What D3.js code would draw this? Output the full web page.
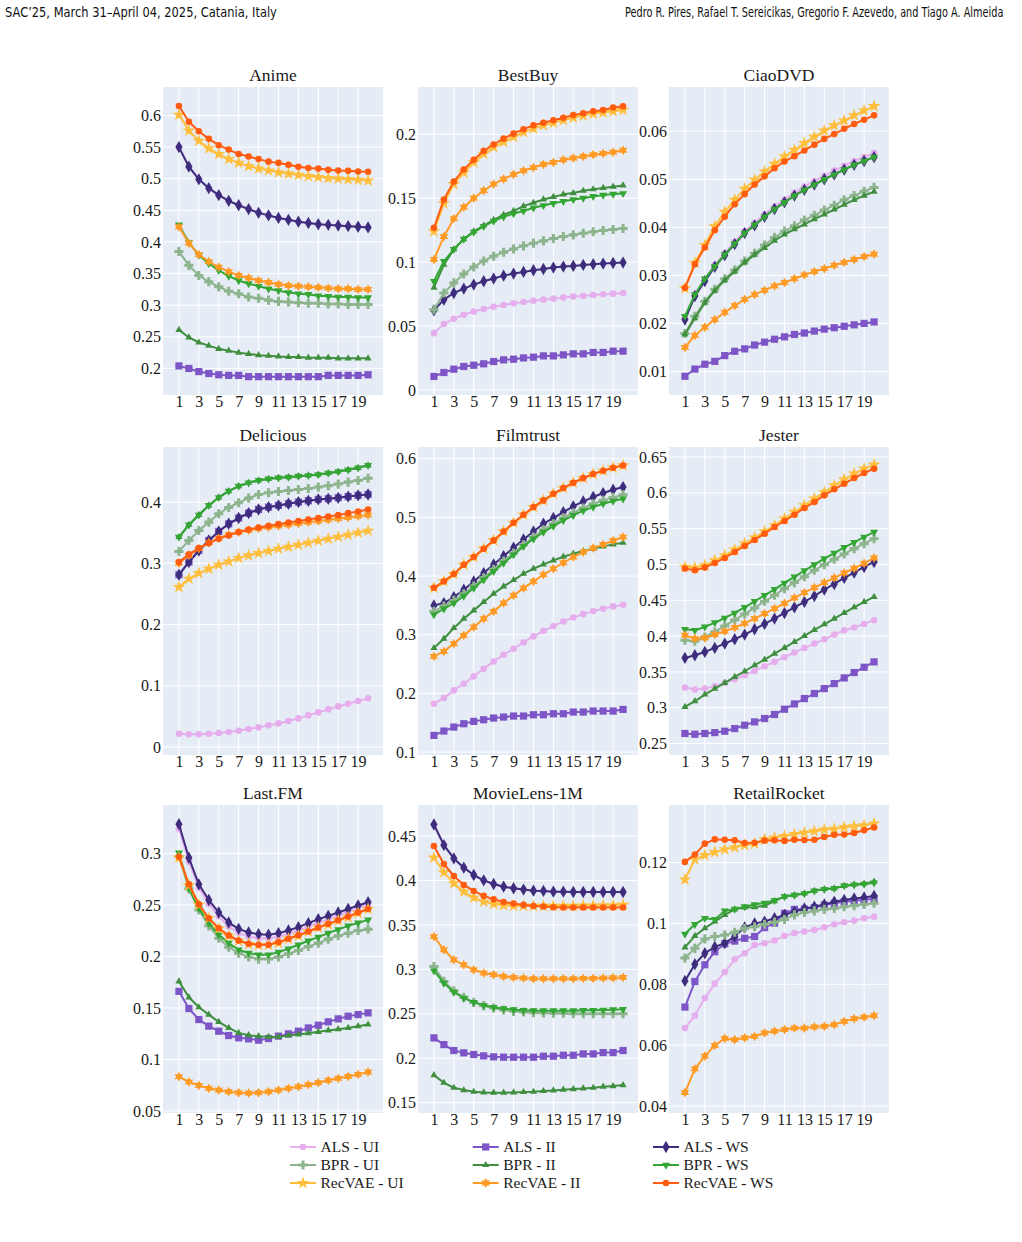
<!DOCTYPE html>
<html>
<head>
<meta charset="utf-8">
<script src="https://cdn.jsdelivr.net/npm/d3@7"></script>
<style>
  html, body { margin: 0; padding: 0; background: #fff; }
  svg { display: block; }
</style>
</head>
<body>
<svg id="chart" width="1022" height="1242"></svg>
<script>
// ---------------- DATA ----------------
const iterations = d3.range(1, 21);
const xTickValues = [1, 3, 5, 7, 9, 11, 13, 15, 17, 19];
const seriesNames = ["ALS - UI", "ALS - II", "ALS - WS", "BPR - UI", "BPR - II", "BPR - WS", "RecVAE - UI", "RecVAE - II", "RecVAE - WS"];
const seriesColors = ["#e6aeed", "#7d55c7", "#3e2c7c", "#8db48d", "#3f8f3f", "#33a633", "#ffbe3c", "#ff9a24", "#ff5c0f"];
const seriesSymbols = ["circle", "square", "diamond", "cross", "triangle", "triangleDown", "star", "hexagram", "circle"];
const datasetNames = ["Anime", "BestBuy", "CiaoDVD", "Delicious", "Filmtrust", "Jester", "Last.FM", "MovieLens-1M", "RetailRocket"];

// rows follow seriesNames order
const animeValues = [
  [0.550,0.519,0.499,0.485,0.474,0.465,0.458,0.452,0.446,0.442,0.438,0.435,0.432,0.430,0.428,0.427,0.426,0.425,0.424,0.423],
  [0.204,0.200,0.195,0.192,0.190,0.189,0.189,0.187,0.187,0.187,0.187,0.187,0.187,0.187,0.187,0.189,0.189,0.189,0.189,0.190],
  [0.550,0.519,0.499,0.485,0.474,0.465,0.458,0.452,0.446,0.442,0.438,0.435,0.432,0.430,0.428,0.427,0.426,0.425,0.424,0.423],
  [0.385,0.363,0.347,0.337,0.329,0.322,0.318,0.313,0.311,0.308,0.306,0.305,0.304,0.303,0.303,0.302,0.302,0.301,0.301,0.301],
  [0.261,0.249,0.241,0.236,0.231,0.228,0.225,0.223,0.221,0.220,0.219,0.218,0.218,0.217,0.217,0.217,0.216,0.216,0.216,0.216],
  [0.427,0.399,0.379,0.366,0.355,0.346,0.339,0.334,0.330,0.326,0.323,0.320,0.318,0.317,0.315,0.314,0.313,0.313,0.312,0.312],
  [0.601,0.576,0.560,0.548,0.539,0.531,0.525,0.520,0.516,0.513,0.510,0.508,0.506,0.504,0.5025,0.501,0.500,0.499,0.498,0.497],
  [0.424,0.398,0.380,0.369,0.360,0.353,0.347,0.343,0.339,0.336,0.333,0.331,0.330,0.329,0.328,0.327,0.326,0.326,0.325,0.325],
  [0.615,0.590,0.575,0.563,0.553,0.546,0.539,0.535,0.531,0.527,0.525,0.522,0.519,0.517,0.516,0.514,0.513,0.5125,0.5115,0.511]
];
const bestbuyValues = [
  [0.0444,0.0515,0.0557,0.0588,0.0614,0.0633,0.065,0.0664,0.0677,0.0688,0.0698,0.0706,0.0714,0.0722,0.073,0.0735,0.0743,0.0748,0.0753,0.0758],
  [0.0105,0.0136,0.0162,0.0183,0.0193,0.0204,0.0222,0.0235,0.024,0.025,0.0256,0.0266,0.0266,0.0274,0.0282,0.0282,0.0293,0.0293,0.0303,0.0303],
  [0.0622,0.0706,0.0758,0.0792,0.0824,0.085,0.0871,0.0894,0.091,0.0923,0.0936,0.0946,0.0957,0.0965,0.097,0.0978,0.0983,0.0988,0.0993,0.0996],
  [0.0627,0.0758,0.0837,0.0907,0.0962,0.1009,0.1046,0.1077,0.1103,0.1127,0.1148,0.1166,0.1184,0.120,0.1213,0.1226,0.1237,0.1247,0.1255,0.1263],
  [0.080,0.098,0.110,0.118,0.124,0.1286,0.133,0.137,0.140,0.1438,0.1464,0.149,0.151,0.153,0.154,0.1558,0.157,0.158,0.159,0.160],
  [0.085,0.1006,0.110,0.118,0.1234,0.128,0.132,0.1354,0.138,0.140,0.1425,0.1443,0.146,0.1475,0.149,0.150,0.1514,0.1524,0.1532,0.1537],
  [0.124,0.146,0.161,0.170,0.178,0.1846,0.190,0.194,0.198,0.2016,0.2045,0.207,0.209,0.211,0.213,0.2146,0.216,0.217,0.218,0.219],
  [0.102,0.120,0.134,0.143,0.150,0.156,0.161,0.165,0.1686,0.1715,0.174,0.1765,0.178,0.180,0.1814,0.1827,0.184,0.185,0.186,0.1875],
  [0.1268,0.149,0.163,0.1725,0.180,0.187,0.192,0.1966,0.2005,0.204,0.207,0.209,0.211,0.213,0.215,0.2165,0.218,0.219,0.221,0.222]
];
const ciaodvdValues = [
  [0.0211,0.026,0.0291,0.0322,0.0346,0.037,0.0392,0.0409,0.0427,0.0443,0.0458,0.0472,0.0485,0.0496,0.0507,0.0518,0.0528,0.0538,0.0546,0.0555],
  [0.0090,0.0105,0.0115,0.0121,0.0133,0.0142,0.0147,0.0155,0.0161,0.0167,0.0172,0.0177,0.018,0.0184,0.0188,0.0191,0.0194,0.0197,0.020,0.0203],
  [0.0208,0.0257,0.0288,0.0318,0.0342,0.0365,0.0388,0.0404,0.0422,0.0438,0.0452,0.0466,0.0478,0.0489,0.050,0.051,0.052,0.053,0.0538,0.0546],
  [0.0179,0.0215,0.0246,0.0271,0.0293,0.0311,0.033,0.0346,0.0363,0.0379,0.0392,0.0403,0.0415,0.0425,0.0436,0.0446,0.0457,0.0466,0.0475,0.0483],
  [0.0177,0.0211,0.0243,0.0268,0.029,0.0308,0.0327,0.0343,0.0357,0.0372,0.0385,0.0396,0.0406,0.0417,0.0427,0.0437,0.0447,0.0457,0.0466,0.0474],
  [0.0215,0.026,0.0293,0.0319,0.0343,0.0366,0.0388,0.0405,0.0422,0.0438,0.0452,0.0466,0.0478,0.0489,0.050,0.051,0.052,0.053,0.0538,0.0546],
  [0.0273,0.0326,0.0363,0.0402,0.0432,0.0457,0.048,0.0499,0.0516,0.0532,0.0547,0.0561,0.0575,0.0588,0.0601,0.0612,0.0622,0.0633,0.0643,0.0652],
  [0.015,0.0175,0.0192,0.0208,0.0223,0.0237,0.025,0.026,0.0269,0.0278,0.0285,0.0293,0.0301,0.0308,0.0314,0.0321,0.0327,0.0333,0.0339,0.0344],
  [0.0274,0.0323,0.0358,0.0394,0.0422,0.0448,0.0469,0.0489,0.0506,0.0523,0.0537,0.0548,0.056,0.0572,0.0584,0.0594,0.0605,0.0615,0.0624,0.0633]
];
const deliciousValues = [
  [0.0218,0.0207,0.0207,0.0218,0.0229,0.0245,0.0267,0.0294,0.0321,0.0354,0.0386,0.0424,0.0468,0.0517,0.0566,0.0615,0.0664,0.0707,0.0751,0.0795],
  [0.2814,0.302,0.321,0.3374,0.352,0.3646,0.374,0.382,0.388,0.3918,0.3946,0.3973,0.40,0.4022,0.4044,0.4054,0.407,0.409,0.411,0.4125],
  [0.2814,0.302,0.321,0.3374,0.352,0.3646,0.374,0.382,0.388,0.3918,0.3946,0.3973,0.40,0.4022,0.4044,0.4054,0.407,0.409,0.411,0.4125],
  [0.3195,0.3374,0.3537,0.3673,0.381,0.3913,0.399,0.4065,0.4125,0.4152,0.4174,0.419,0.4207,0.4223,0.4245,0.4267,0.4294,0.4327,0.4354,0.439],
  [0.343,0.363,0.379,0.3946,0.4076,0.418,0.426,0.4316,0.4354,0.438,0.4397,0.4408,0.4424,0.4435,0.445,0.4473,0.450,0.4528,0.456,0.460],
  [0.343,0.363,0.379,0.3946,0.4076,0.418,0.426,0.4316,0.4354,0.438,0.4397,0.4408,0.4424,0.4435,0.445,0.4473,0.450,0.4528,0.456,0.460],
  [0.2612,0.2748,0.284,0.291,0.2977,0.303,0.3086,0.313,0.3167,0.32,0.3238,0.327,0.3303,0.3336,0.3369,0.340,0.3434,0.3467,0.350,0.3532],
  [0.300,0.313,0.324,0.334,0.341,0.347,0.351,0.354,0.357,0.359,0.361,0.363,0.365,0.367,0.369,0.371,0.373,0.375,0.377,0.379],
  [0.302,0.3146,0.325,0.333,0.340,0.3456,0.351,0.3554,0.3586,0.3614,0.364,0.3668,0.369,0.3717,0.3739,0.3766,0.379,0.382,0.3848,0.388]
];
const filmtrustValues = [
  [0.1824,0.192,0.2051,0.2165,0.229,0.242,0.2545,0.2659,0.2761,0.2869,0.2972,0.3063,0.3148,0.3227,0.3295,0.3352,0.3403,0.3443,0.3483,0.3511],
  [0.1284,0.1358,0.1426,0.1483,0.1523,0.1551,0.158,0.1597,0.1614,0.1614,0.1636,0.1636,0.1653,0.1653,0.1682,0.1682,0.1699,0.1699,0.1699,0.1727],
  [0.35,0.354,0.3642,0.3767,0.3909,0.4051,0.4199,0.4341,0.4483,0.4625,0.4761,0.4892,0.4989,0.5091,0.5188,0.5273,0.5347,0.5415,0.5472,0.5517],
  [0.3398,0.3489,0.3585,0.3699,0.383,0.3972,0.4114,0.4256,0.4392,0.4534,0.4665,0.479,0.4892,0.4994,0.508,0.5159,0.5233,0.529,0.5341,0.5386],
  [0.2773,0.2932,0.3114,0.3273,0.3415,0.3557,0.3699,0.3824,0.3932,0.404,0.4125,0.4199,0.4267,0.433,0.4381,0.4426,0.4466,0.4506,0.454,0.4568],
  [0.3341,0.3443,0.354,0.3659,0.3795,0.3937,0.408,0.4222,0.4364,0.4506,0.4636,0.475,0.4852,0.4949,0.5034,0.5114,0.5176,0.5233,0.5278,0.5318],
  [0.380,0.391,0.4034,0.4193,0.4324,0.4466,0.4608,0.4761,0.4909,0.5045,0.5176,0.529,0.5403,0.55,0.5591,0.567,0.5739,0.5795,0.5847,0.5886],
  [0.2631,0.2716,0.2847,0.2989,0.3131,0.3273,0.3398,0.354,0.367,0.3795,0.3909,0.4023,0.4125,0.4227,0.4324,0.4409,0.4477,0.454,0.4602,0.4665],
  [0.380,0.391,0.4034,0.4193,0.4324,0.4466,0.4608,0.4761,0.4909,0.5045,0.5176,0.529,0.5403,0.55,0.5591,0.567,0.5739,0.5795,0.5847,0.5886]
];
const jesterValues = [
  [0.3281,0.3253,0.3267,0.33,0.3347,0.3398,0.3453,0.3514,0.3579,0.364,0.3705,0.377,0.3835,0.3895,0.3956,0.4021,0.4081,0.412,0.417,0.4221],
  [0.264,0.263,0.264,0.2653,0.2672,0.2709,0.2756,0.2802,0.2849,0.2905,0.2979,0.3053,0.3128,0.3198,0.3267,0.3337,0.3416,0.3491,0.3565,0.364],
  [0.3695,0.3733,0.3779,0.3835,0.3895,0.3956,0.4021,0.4095,0.417,0.4244,0.4323,0.4402,0.4477,0.456,0.4649,0.4728,0.4812,0.4886,0.4965,0.5035],
  [0.3942,0.3928,0.3988,0.4058,0.4142,0.4226,0.4309,0.4393,0.4486,0.457,0.4663,0.4747,0.483,0.4919,0.4998,0.5072,0.5147,0.5221,0.5291,0.536],
  [0.3012,0.3091,0.3184,0.3267,0.3347,0.343,0.3509,0.3593,0.3672,0.3756,0.3835,0.3919,0.4002,0.4086,0.4165,0.4244,0.4323,0.4402,0.4477,0.4547],
  [0.4095,0.4081,0.4128,0.4188,0.4253,0.4323,0.4402,0.4486,0.457,0.4653,0.4742,0.4826,0.4914,0.4998,0.5081,0.516,0.524,0.5309,0.5384,0.5453],
  [0.4965,0.4956,0.4988,0.5058,0.5128,0.5207,0.5291,0.5374,0.5463,0.5547,0.564,0.5733,0.5826,0.5919,0.6012,0.6105,0.6188,0.6267,0.6337,0.6393],
  [0.4012,0.3965,0.3974,0.4021,0.4067,0.4119,0.4179,0.4244,0.4314,0.4384,0.4458,0.4533,0.4607,0.4677,0.4747,0.4812,0.4881,0.4947,0.5016,0.5091],
  [0.4942,0.4919,0.4956,0.5021,0.5091,0.5174,0.5258,0.5342,0.543,0.5523,0.5607,0.5695,0.5788,0.5872,0.5965,0.6049,0.6128,0.6207,0.6277,0.6337]
];
const lastfmValues = [
  [0.324,0.292,0.267,0.251,0.239,0.229,0.223,0.219,0.218,0.2175,0.219,0.222,0.225,0.229,0.233,0.236,0.240,0.243,0.247,0.250],
  [0.1661,0.1494,0.1387,0.1323,0.1274,0.1232,0.121,0.120,0.1187,0.1203,0.1226,0.1248,0.1274,0.1306,0.1332,0.1365,0.1394,0.1419,0.1435,0.1452],
  [0.3284,0.2958,0.27,0.2548,0.2426,0.2329,0.2268,0.2232,0.2216,0.221,0.2226,0.2252,0.2284,0.2323,0.2361,0.2394,0.2426,0.2461,0.2494,0.2526],
  [0.297,0.2655,0.2452,0.2297,0.2177,0.209,0.2032,0.1994,0.1974,0.1974,0.1994,0.2026,0.2058,0.2097,0.2129,0.2168,0.22,0.2226,0.2252,0.2265],
  [0.1758,0.1603,0.1506,0.1435,0.1365,0.1306,0.1258,0.1235,0.1226,0.1219,0.1219,0.1232,0.1242,0.1255,0.1268,0.1281,0.1294,0.1306,0.1323,0.1339],
  [0.3006,0.2661,0.2468,0.2323,0.221,0.2129,0.2065,0.2032,0.2016,0.2016,0.2042,0.2074,0.2113,0.2152,0.2187,0.2226,0.2261,0.2297,0.2326,0.2355],
  [0.296,0.269,0.250,0.237,0.227,0.220,0.215,0.212,0.211,0.211,0.213,0.217,0.220,0.224,0.228,0.231,0.235,0.238,0.242,0.246],
  [0.0832,0.0781,0.0748,0.0719,0.0703,0.0687,0.0677,0.0674,0.0677,0.0687,0.0703,0.0719,0.0735,0.0755,0.0774,0.0797,0.0816,0.0835,0.0855,0.0877],
  [0.2968,0.27,0.2506,0.2371,0.2274,0.2203,0.2155,0.2123,0.2113,0.2113,0.2139,0.2171,0.2206,0.2242,0.2281,0.2316,0.2352,0.2387,0.2426,0.2461]
];
const movielensValues = [
  [0.4631,0.4399,0.4249,0.4145,0.4062,0.4002,0.3961,0.3931,0.3913,0.3898,0.3886,0.3883,0.3875,0.3875,0.3871,0.3871,0.3871,0.3871,0.3871,0.3871],
  [0.2229,0.2154,0.2087,0.2061,0.2042,0.2027,0.2016,0.2012,0.2012,0.2012,0.2012,0.2023,0.2023,0.2034,0.2034,0.2049,0.2049,0.2064,0.2064,0.2087],
  [0.4631,0.4399,0.4249,0.4145,0.4062,0.4002,0.3961,0.3931,0.3913,0.3898,0.3886,0.3883,0.3875,0.3875,0.3871,0.3871,0.3871,0.3871,0.3871,0.3871],
  [0.3033,0.2865,0.276,0.2685,0.2629,0.2592,0.2566,0.2543,0.2528,0.2521,0.2513,0.251,0.2506,0.2506,0.2502,0.2502,0.2502,0.2502,0.2502,0.2502],
  [0.181,0.1724,0.1668,0.1642,0.1623,0.1616,0.1612,0.1612,0.1616,0.162,0.1623,0.1631,0.1638,0.1646,0.1653,0.1661,0.1668,0.168,0.1687,0.1698],
  [0.2985,0.2846,0.2745,0.2678,0.2629,0.2596,0.2573,0.2558,0.2547,0.2539,0.2536,0.2536,0.2536,0.2536,0.2536,0.2539,0.2539,0.2543,0.2547,0.2551],
  [0.4257,0.4092,0.3969,0.3875,0.3808,0.3763,0.3737,0.3722,0.3714,0.3714,0.3714,0.3714,0.3714,0.3714,0.3714,0.3718,0.3718,0.3722,0.3722,0.3726],
  [0.337,0.322,0.3108,0.3052,0.2996,0.2959,0.294,0.2921,0.291,0.2903,0.2895,0.2895,0.2895,0.2895,0.2895,0.2899,0.2899,0.2903,0.2906,0.291],
  [0.4388,0.4186,0.4051,0.395,0.3883,0.3827,0.3789,0.3759,0.3741,0.3726,0.3714,0.3707,0.3699,0.3696,0.3696,0.3696,0.3696,0.3696,0.3696,0.3696]
];
const retailrocketValues = [
  [0.0656,0.0697,0.0755,0.0802,0.084,0.0882,0.0902,0.0929,0.0935,0.0944,0.0959,0.0968,0.0973,0.0978,0.0987,0.0997,0.1004,0.1009,0.1017,0.1022],
  [0.0725,0.0809,0.0864,0.0907,0.0933,0.0942,0.0951,0.0957,0.0986,0.1001,0.1033,0.1046,0.1047,0.1052,0.106,0.1066,0.1071,0.1074,0.1077,0.1082],
  [0.0811,0.0866,0.0902,0.0923,0.0935,0.0957,0.0987,0.1,0.1006,0.1017,0.1028,0.1038,0.1049,0.1055,0.1062,0.1071,0.1077,0.1082,0.1085,0.109],
  [0.0886,0.0918,0.0949,0.0957,0.0962,0.0971,0.0984,0.0989,0.0997,0.1004,0.1013,0.1028,0.1036,0.1041,0.1046,0.1049,0.1055,0.1058,0.1062,0.1066],
  [0.0921,0.0959,0.0984,0.1006,0.1028,0.1046,0.1052,0.1053,0.1058,0.1073,0.1088,0.1093,0.1098,0.1107,0.1113,0.1115,0.1123,0.1128,0.1131,0.1137],
  [0.0965,0.0997,0.1017,0.1013,0.1041,0.1047,0.1055,0.1062,0.1067,0.1076,0.1088,0.1093,0.1098,0.1107,0.1112,0.1115,0.1124,0.1127,0.1129,0.1133],
  [0.1144,0.121,0.1224,0.1234,0.1243,0.125,0.1257,0.1262,0.1276,0.1282,0.1287,0.1293,0.1298,0.1303,0.1308,0.1311,0.1316,0.1319,0.1322,0.1328],
  [0.0444,0.0522,0.0564,0.0599,0.0622,0.0618,0.0624,0.0629,0.064,0.0646,0.0651,0.0656,0.0656,0.066,0.0662,0.0667,0.0678,0.0687,0.0692,0.0697],
  [0.1202,0.1226,0.1262,0.1276,0.1275,0.1273,0.1264,0.1265,0.1272,0.1273,0.1271,0.1275,0.1274,0.1275,0.1284,0.1291,0.1292,0.1297,0.1306,0.1315]
];

// y tick values per dataset
const animeTicks = [0.2, 0.25, 0.3, 0.35, 0.4, 0.45, 0.5, 0.55, 0.6];
const bestbuyTicks = [0, 0.05, 0.1, 0.15, 0.2];
const ciaodvdTicks = [0.01, 0.02, 0.03, 0.04, 0.05, 0.06];
const deliciousTicks = [0, 0.1, 0.2, 0.3, 0.4];
const filmtrustTicks = [0.1, 0.2, 0.3, 0.4, 0.5, 0.6];
const jesterTicks = [0.25, 0.3, 0.35, 0.4, 0.45, 0.5, 0.55, 0.6, 0.65];
const lastfmTicks = [0.05, 0.1, 0.15, 0.2, 0.25, 0.3];
const movielensTicks = [0.15, 0.2, 0.25, 0.3, 0.35, 0.4, 0.45];
const retailrocketTicks = [0.04, 0.06, 0.08, 0.1, 0.12];

// ---------------- LAYOUT ----------------
const panels = [
  { values: animeValues, ticks: animeTicks, domain: [0.158, 0.645] },
  { values: bestbuyValues, ticks: bestbuyTicks, domain: [-0.004, 0.237] },
  { values: ciaodvdValues, ticks: ciaodvdTicks, domain: [0.0051, 0.0692] },
  { values: deliciousValues, ticks: deliciousTicks, domain: [-0.013, 0.49] },
  { values: filmtrustValues, ticks: filmtrustTicks, domain: [0.095, 0.62] },
  { values: jesterValues, ticks: jesterTicks, domain: [0.234, 0.664] },
  { values: lastfmValues, ticks: lastfmTicks, domain: [0.048, 0.347] },
  { values: movielensValues, ticks: movielensTicks, domain: [0.1384, 0.485] },
  { values: retailrocketValues, ticks: retailrocketTicks, domain: [0.0377, 0.1389] }
];
const colLeft = [163, 418, 669];
const rowTop = [87, 447, 805];
const plotW = 220, plotH = 308;
const xDomain = [-0.6, 21.5];

const serif = "'Liberation Serif', 'DejaVu Serif', serif";
const tickFont = 16, titleFont = 17.5, legendFont = 15.5;
const textColor = "#1a1a1a";

const svg = d3.select("#chart");

// header: text scaled horizontally to its target width (no textLength)
const headerFont = "'Liberation Sans Narrow', 'DejaVu Sans Condensed', sans-serif";
function headerText(str, x0, targetW) {
  const t = svg.append("text").attr("x", 0).attr("y", 0)
    .attr("font-family", headerFont).attr("font-size", 13.5).attr("fill", "#111")
    .text(str);
  const w = t.node().getComputedTextLength();
  const s = w > 0 ? targetW / w : 1;
  t.attr("transform", `translate(${x0},17) scale(${s},1)`);
}
headerText("SAC’25, March 31–April 04, 2025, Catania, Italy", 5, 272);
headerText("Pedro R. Pires, Rafael T. Sereicikas, Gregorio F. Azevedo, and Tiago A. Almeida", 625, 379);

// symbols
const hexagram = {
  draw(ctx, size) {
    const R = Math.sqrt(size) * 0.72, r = R * 0.55;
    for (let i = 0; i < 12; i++) {
      const a = -Math.PI / 2 + i * Math.PI / 6;
      const rr = i % 2 === 0 ? R : r;
      const px = rr * Math.cos(a), py = rr * Math.sin(a);
      if (i === 0) ctx.moveTo(px, py); else ctx.lineTo(px, py);
    }
    ctx.closePath();
  }
};
const symbolTypes = {
  circle: [d3.symbolCircle, 34, 0],
  square: [d3.symbolSquare, 52, 0],
  diamond: [d3.symbolDiamond, 44, 0],
  cross: [d3.symbolCross, 46, 0],
  triangle: [d3.symbolTriangle, 22, 0],
  triangleDown: [d3.symbolTriangle, 28, 180],
  star: [d3.symbolStar, 52, 0],
  hexagram: [hexagram, 48, 0]
};
function symbolPath(name) {
  const t = symbolTypes[name];
  return d3.symbol().type(t[0]).size(t[1])();
}
function symbolRot(name) { return symbolTypes[name][2]; }

const fmt = d3.format("~g");

panels.forEach((p, i) => {
  const left = colLeft[i % 3], top = rowTop[Math.floor(i / 3)];
  const x = d3.scaleLinear().domain(xDomain).range([left, left + plotW]);
  const y = d3.scaleLinear().domain(p.domain).range([top + plotH, top]);
  const g = svg.append("g");

  g.append("rect").attr("x", left).attr("y", top).attr("width", plotW).attr("height", plotH)
    .attr("fill", "#e5ecf6");

  const clipId = "clip" + i;
  svg.append("clipPath").attr("id", clipId).append("rect")
    .attr("x", left).attr("y", top).attr("width", plotW).attr("height", plotH);

  // grid
  g.selectAll(".gx").data(xTickValues).enter().append("line")
    .attr("x1", d => x(d)).attr("x2", d => x(d)).attr("y1", top).attr("y2", top + plotH)
    .attr("stroke", "#fff").attr("stroke-width", 1);
  g.selectAll(".gy").data(p.ticks).enter().append("line")
    .attr("x1", left).attr("x2", left + plotW).attr("y1", d => y(d)).attr("y2", d => y(d))
    .attr("stroke", "#fff").attr("stroke-width", 1);

  // axes
  const xAxis = d3.axisBottom(x).tickValues(xTickValues).tickSize(0).tickPadding(1).tickFormat(d3.format("d"));
  const xg = g.append("g").attr("transform", `translate(0,${top + plotH})`).call(xAxis);
  xg.select(".domain").remove();
  xg.selectAll("text").attr("font-family", serif).attr("font-size", tickFont).attr("fill", textColor);

  const yAxis = d3.axisLeft(y).tickValues(p.ticks).tickSize(0).tickPadding(2).tickFormat(fmt);
  const yg = g.append("g").attr("transform", `translate(${left},0)`).call(yAxis);
  yg.select(".domain").remove();
  yg.selectAll("text").attr("font-family", serif).attr("font-size", tickFont).attr("fill", textColor);

  // title
  g.append("text").attr("x", left + plotW / 2).attr("y", top - 6).attr("text-anchor", "middle")
    .attr("font-family", serif).attr("font-size", titleFont).attr("fill", textColor)
    .text(datasetNames[i]);

  // series
  const plot = g.append("g").attr("clip-path", `url(#${clipId})`);
  const line = d3.line().x((d, k) => x(iterations[k])).y(d => y(d));
  p.values.forEach((vals, s) => {
    const sg = plot.append("g");
    sg.append("path").attr("d", line(vals)).attr("fill", "none")
      .attr("stroke", seriesColors[s]).attr("stroke-width", 2).attr("stroke-linejoin", "round");
    const path = symbolPath(seriesSymbols[s]);
    const rot = symbolRot(seriesSymbols[s]);
    sg.selectAll("path.m").data(vals).enter().append("path").attr("class", "m")
      .attr("d", path)
      .attr("transform", (d, k) => `translate(${x(iterations[k])},${y(d)}) rotate(${rot})`)
      .attr("fill", seriesColors[s]);
  });
});

// legend
const legendCols = [290, 472.7, 653];
const legendRows = [1147, 1165, 1183];
seriesNames.forEach((name, s) => {
  const lx = legendCols[s % 3], ly = legendRows[Math.floor(s / 3)];
  const lg = svg.append("g");
  lg.append("line").attr("x1", lx).attr("x2", lx + 26).attr("y1", ly).attr("y2", ly)
    .attr("stroke", seriesColors[s]).attr("stroke-width", 2);
  lg.append("path").attr("d", symbolPath(seriesSymbols[s]))
    .attr("transform", `translate(${lx + 13},${ly}) rotate(${symbolRot(seriesSymbols[s])})`)
    .attr("fill", seriesColors[s]);
  lg.append("text").attr("x", lx + 30.5).attr("y", ly).attr("dy", "0.35em")
    .attr("font-family", serif).attr("font-size", legendFont).attr("fill", textColor)
    .text(name);
});
</script>
</body>
</html>
